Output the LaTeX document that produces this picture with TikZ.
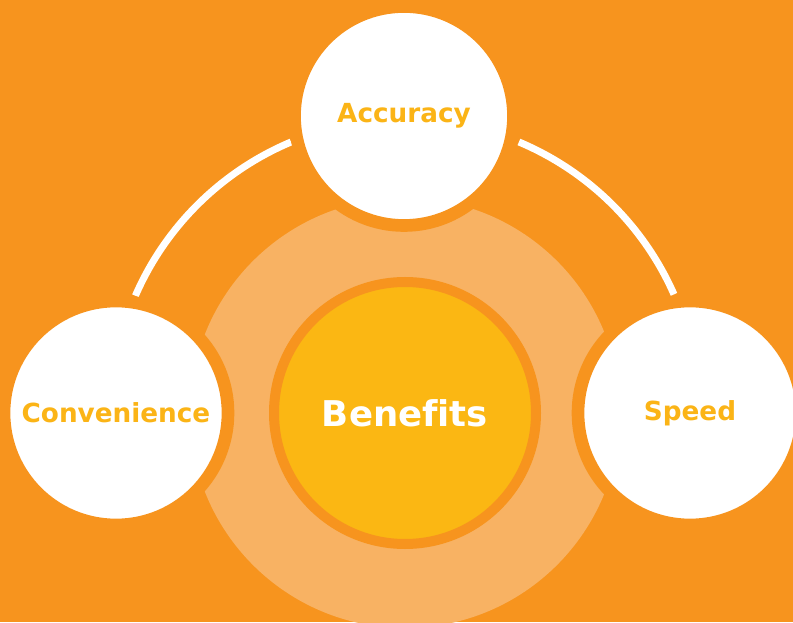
\documentclass[tikz,border=0pt]{standalone}
\usepackage{fontspec}
\setmainfont[Ligatures={NoCommon}]{DejaVu Sans}
\definecolor{bgorange}{HTML}{F7941E}
\definecolor{paleorange}{HTML}{F8B263}
\definecolor{coreyellow}{HTML}{FBB713}
\definecolor{labelyellow}{HTML}{FBB416}
\begin{document}
\begin{tikzpicture}[x=0.75pt, y=0.75pt,
    satellite/.style={circle, fill=white, draw=bgorange, line width=9.5pt,
      inner sep=0pt, text=labelyellow, font=\bfseries\fontsize{19.7}{22}\selectfont},
    core/.style={circle, fill=coreyellow, draw=bgorange, line width=7.5pt,
      minimum size=196.5pt, inner sep=0pt, text=white,
      font=\bfseries\fontsize{26.6}{30}\selectfont},
    link/.style={white, line width=5.25pt}]
    \useasboundingbox (0,0) rectangle (793,622);
    \clip (0,0) rectangle (793,622);

    % Background
    \fill[bgorange] (0,0) rectangle (793,622);

    % Halo
    \coordinate (hub) at (405,209);
    \fill[paleorange] (hub) circle (215);

    % Connecting arcs
    \draw[link] (hub) ++(156.5:294) arc (156.5:112.8:294);
    \draw[link] (hub) ++(67.2:294) arc (67.2:23.8:294);

    % Centre
    \node[core] (benefits) at (hub) {Benefits};

    % Satellites
    \node[satellite, minimum size=164.25pt] (accuracy) at (404,506) {Accuracy};
    \node[satellite, minimum size=168pt] (convenience) at (116,209) {Convenience};
    \node[satellite, minimum size=168pt] (speed) at (690,209) {Speed};
\end{tikzpicture}
\end{document}
